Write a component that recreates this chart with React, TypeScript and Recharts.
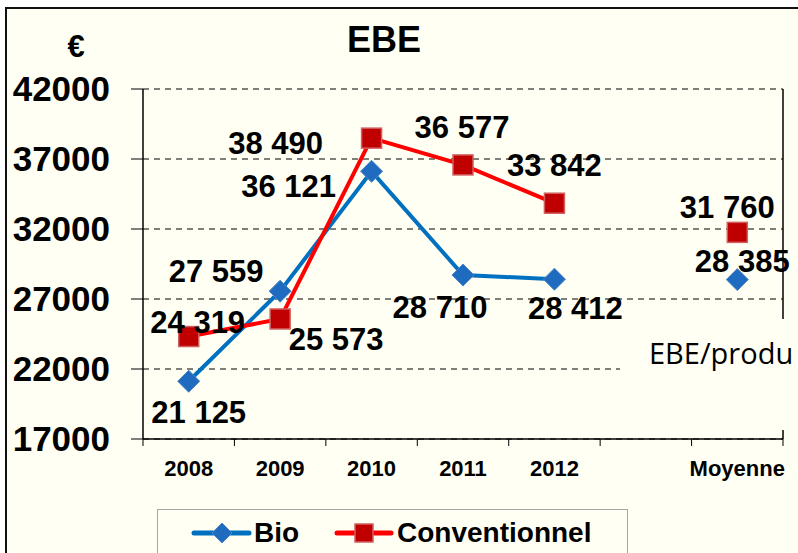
import React from 'react';
import { LineChart, Line, XAxis, YAxis, CartesianGrid, LabelList, Legend } from 'recharts';

const years = ['2008', '2009', '2010', '2011', '2012', '', 'Moyenne'];
const bio = [21125, 27559, 36121, 28710, 28412, null, 28385];
const conventionnel = [24319, 25573, 38490, 36577, 33842, null, 31760];
const yTicks = [17000, 22000, 27000, 32000, 37000, 42000];

// where each value label sits relative to its marker (px)
const bioLabelShift = [[10, 31], [-64, -20], [-83, 15], [-23, 32], [21, 29], [0, 0], [5, -19]];
const convLabelShift = [[9, -15], [56, 20], [-96, 5], [-1, -38], [0, -38], [0, 0], [-10, -26]];

const data = years.map((year, i) => ({ year, bio: bio[i], conv: conventionnel[i] }));

const CREAM = '#FFFFF4';
const FONT = '"Liberation Sans", Arial, sans-serif';
const BAND = 640 / years.length;

const fmt = (v: number) => String(v).replace(/\B(?=(\d{3})+(?!\d))/g, ' ');

const Diamond = (props: any) => {
  const { cx, cy, half = 11 } = props;
  if (cx == null || cy == null || props.value == null) return <g key={props.key} />;
  return (
    <path
      key={props.key}
      d={`M${cx},${cy - half} L${cx + half},${cy} L${cx},${cy + half} L${cx - half},${cy} Z`}
      fill="#1F6BBF"
      stroke="#4F84C4"
      strokeWidth={1}
    />
  );
};

const Square = (props: any) => {
  const { cx, cy, half = 10 } = props;
  if (cx == null || cy == null || props.value == null) return <g key={props.key} />;
  return (
    <rect
      key={props.key}
      x={cx - half}
      y={cy - half}
      width={half * 2}
      height={half * 2}
      fill="#C00000"
      stroke="#D06060"
      strokeWidth={1.5}
    />
  );
};

const makeLabel = (shift: number[][]) => (props: any) => {
  const { x, y, value, index } = props;
  if (value == null || x == null || y == null) return null;
  const [dx, dy] = shift[index];
  return (
    <text
      x={x + dx}
      y={y + dy}
      dy="0.36em"
      textAnchor="middle"
      fontFamily={FONT}
      fontWeight="bold"
      fontSize={31}
      fill="#000"
    >
      {fmt(value)}
    </text>
  );
};

const XTick = (props: any) => {
  const { x, y, payload, index } = props;
  return (
    <g>
      <line x1={x - BAND / 2} x2={x - BAND / 2} y1={y} y2={y + 7} stroke="#000" strokeWidth={1} />
      {index === years.length - 1 && (
        <line x1={x + BAND / 2} x2={x + BAND / 2} y1={y} y2={y + 7} stroke="#000" strokeWidth={1} />
      )}
      <text x={x} y={y + 37} textAnchor="middle" fontFamily={FONT} fontWeight="bold" fontSize={22} fill="#000">
        {payload.value}
      </text>
    </g>
  );
};

const renderLegend = () => (
  <div
    style={{
      width: 471,
      height: 60,
      boxSizing: 'border-box',
      border: '1px solid #A6A6A6',
      background: CREAM,
      position: 'relative',
    }}
  >
    <svg width={471} height={60} style={{ position: 'absolute', left: -1, top: -1 }}>
      <line x1={37} x2={92} y1={24} y2={24} stroke="#0070C0" strokeWidth={5} strokeLinecap="round" />
      <Diamond cx={65} cy={24} half={10} value={1} />
      <text x={97} y={33} fontFamily={FONT} fontWeight="bold" fontSize={28}>Bio</text>
      <line x1={180} x2={234} y1={24} y2={24} stroke="#FF0000" strokeWidth={5} strokeLinecap="round" />
      <Square cx={207} cy={24} half={9} value={1} />
      <text x={240} y={33} fontFamily={FONT} fontWeight="bold" fontSize={28}>Conventionnel</text>
    </svg>
  </div>
);

export default function App() {
  return (
    <div style={{ position: 'absolute', left: 0, top: 0, width: 798, height: 553, overflow: 'hidden', background: '#fff' }}>
      <div
        style={{
          position: 'absolute',
          left: 5,
          top: 7,
          width: 820,
          height: 580,
          background: CREAM,
          borderTop: '2px solid #111',
          borderLeft: '2px solid #111',
        }}
      />
      <div style={{ position: 'absolute', left: 0, top: 0 }}>
        <LineChart width={798} height={553} data={data} margin={{ top: 89, right: 0, bottom: 0, left: 0 }}>
          <CartesianGrid yAxisId="left" vertical={false} stroke="#000" strokeDasharray="6 5" />
          <XAxis
            dataKey="year"
            height={114}
            interval={0}
            padding={{ left: BAND / 2, right: BAND / 2 }}
            tickSize={0}
            tickMargin={0}
            tick={<XTick />}
            axisLine={{ stroke: '#000', strokeWidth: 1.5 }}
            tickLine={false}
          />
          <YAxis
            yAxisId="left"
            width={143}
            domain={[17000, 42000]}
            ticks={yTicks}
            interval={0}
            tickSize={12}
            tickMargin={21}
            axisLine={{ stroke: '#000', strokeWidth: 1.5 }}
            tickLine={{ stroke: '#000' }}
            tick={{ fontFamily: FONT, fontWeight: 'bold', fontSize: 35, fill: '#000' }}
          />
          <YAxis
            yAxisId="right"
            orientation="right"
            width={15}
            tick={false}
            tickLine={false}
            axisLine={{ stroke: '#000', strokeWidth: 1.5 }}
          />
          <Legend
            layout="horizontal"
            verticalAlign="middle"
            align="center"
            wrapperStyle={{ left: 157, top: 509, width: 471, height: 60 }}
            content={renderLegend}
          />
          <Line
            yAxisId="left"
            dataKey="bio"
            name="Bio"
            stroke="#0070C0"
            strokeWidth={4}
            dot={<Diamond />}
            activeDot={false}
            isAnimationActive={false}
          >
            <LabelList dataKey="bio" content={makeLabel(bioLabelShift)} />
          </Line>
          <Line
            yAxisId="left"
            dataKey="conv"
            name="Conventionnel"
            stroke="#FF0000"
            strokeWidth={4}
            dot={<Square />}
            activeDot={false}
            isAnimationActive={false}
          >
            <LabelList dataKey="conv" content={makeLabel(convLabelShift)} />
          </Line>
        </LineChart>
      </div>
      <svg width={798} height={553} style={{ position: 'absolute', left: 0, top: 0, pointerEvents: 'none' }}>
        <text x={76} y={46} dy="0.36em" textAnchor="middle" fontFamily={FONT} fontWeight="bold" fontSize={31}>€</text>
        <text x={384} y={39} dy="0.36em" textAnchor="middle" fontFamily={FONT} fontWeight="bold" fontSize={36}>EBE</text>
        <rect x={620} y={319} width={180} height={111} fill={CREAM} />
        <text x={649} y={364} fontFamily='"Open Sans", sans-serif' fontSize={29} fill="#000">EBE/produ</text>
      </svg>
    </div>
  );
}
